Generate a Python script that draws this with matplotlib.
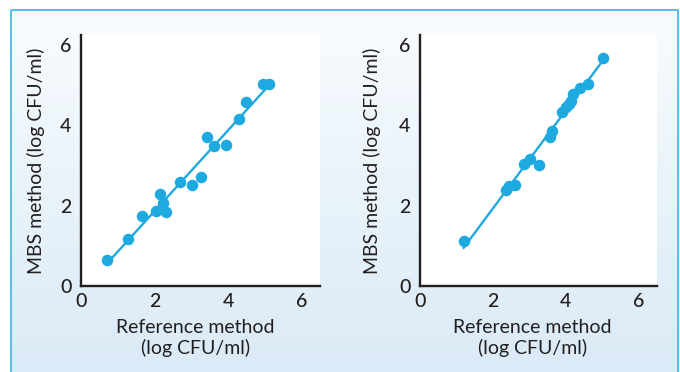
import numpy as np
import matplotlib
matplotlib.use("Agg")
import matplotlib.pyplot as plt
from matplotlib.patches import Rectangle

plt.rcParams['font.family'] = ['Lato', 'DejaVu Sans']
plt.rcParams['font.weight'] = 'medium'

# Data (log CFU/ml)
ref_a = [0.70, 1.28, 1.67, 2.03, 2.14, 2.23, 2.31, 2.69, 3.02, 3.25,
         3.42, 3.61, 3.94, 4.29, 4.50, 4.96, 5.12]
mbs_a = [0.64, 1.18, 1.75, 1.86, 2.28, 2.06, 1.85, 2.58, 2.51, 2.72,
         3.71, 3.48, 3.52, 4.15, 4.58, 5.04, 5.04]

ref_b = [1.20, 2.37, 2.44, 2.60, 2.85, 3.01, 3.27, 3.56, 3.64, 3.90,
         4.01, 4.10, 4.16, 4.21, 4.39, 4.62, 5.04]
mbs_b = [1.13, 2.38, 2.50, 2.52, 3.04, 3.17, 3.01, 3.71, 3.86, 4.33,
         4.46, 4.53, 4.61, 4.78, 4.92, 5.04, 5.67]

ticks = [0, 2, 4, 6]
xlabel = "Reference method\n(log CFU/ml)"
ylabel = "MBS method (log CFU/ml)"

BLUE = '#1fa9e1'
DARK = '#231f20'
W, H = 680, 372
FS = 14

fig = plt.figure(figsize=(W / 100, H / 100), dpi=100)

# background gradient panel
bg = fig.add_axes([0, 0, 1, 1], zorder=-10)
bg.set_xlim(0, W)
bg.set_ylim(H, 0)
bg.axis('off')
grad = np.linspace(0, 1, 256).reshape(-1, 1)
top = np.array([0.975, 0.988, 0.996])
bot = np.array([0.855, 0.918, 0.965])
img = top[None, None, :] * (1 - grad[..., None]) + bot[None, None, :] * grad[..., None]
bg.imshow(img, extent=[11, 678, H, 10], aspect='auto', zorder=0)
bg.add_patch(Rectangle((11, 10), 667, H, fill=False, edgecolor='#3db5e8', lw=1.2, zorder=2))


def panel(left_px, right_px, ref, mbs, ylab_x, xlab_x):
    bottom_px, top_px = 286, 35
    ax = fig.add_axes([left_px / W, (H - bottom_px) / H,
                       (right_px - left_px) / W, (bottom_px - top_px) / H])
    ax.set_facecolor('white')
    ax.set_xlim(0, 6.5)
    ax.set_ylim(0, 6.25)
    for s in ['top', 'right']:
        ax.spines[s].set_visible(False)
    for s in ['left', 'bottom']:
        ax.spines[s].set_color(DARK)
        ax.spines[s].set_linewidth(1.7)
    ax.set_xticks(ticks)
    ax.set_yticks(ticks)
    ax.tick_params(length=0, labelsize=FS, colors=DARK)
    ax.tick_params(axis='x', pad=5)
    ax.tick_params(axis='y', pad=7)
    x = np.array(ref)
    y = np.array(mbs)
    k, b = np.polyfit(x, y, 1)
    xs = np.array([x.min(), x.max()])
    ax.plot(xs, k * xs + b, color=BLUE, lw=1.7, zorder=2)
    ax.plot(x, y, 'o', color=BLUE, ms=8.3, mew=0, zorder=3)
    ax.set_ylabel(ylabel, fontsize=FS, color=DARK)
    ax.yaxis.set_label_coords(ylab_x, 0.5)
    ax.set_xlabel(xlabel, fontsize=FS, color=DARK, linespacing=1.25)
    ax.xaxis.set_label_coords(xlab_x, -0.13)
    return ax


panel(81, 320, ref_a, mbs_a, -0.15, 0.48)
panel(420, 656.5, ref_b, mbs_b, -0.163, 0.476)

fig.savefig('out.png', dpi=100)
